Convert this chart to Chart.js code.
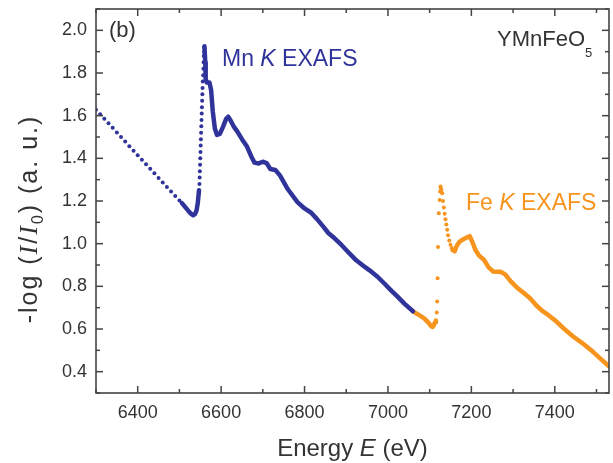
<!DOCTYPE html>
<html>
<head>
<meta charset="utf-8">
<script src="https://cdn.jsdelivr.net/npm/chart.js@4.4.0/dist/chart.umd.min.js"></script>
<style>
  html, body { margin: 0; padding: 0; background: #fff; }
  #wrap { width: 613px; height: 463px; }
</style>
</head>
<body>
<div id="wrap"><canvas id="exafs" width="613" height="463"></canvas></div>
<script>
// Axis ticks
const xTicks = [6400, 6600, 6800, 7000, 7200, 7400];
const xMinorTicks = [6300, 6500, 6700, 6900, 7100, 7300, 7500];
const yTicks = [0.4, 0.6, 0.8, 1.0, 1.2, 1.4, 1.6, 1.8, 2.0];
const yMinorTicks = [0.3, 0.5, 0.7, 0.9, 1.1, 1.3, 1.5, 1.7, 1.9, 2.1];

// Mn K edge: sparse pre-edge scan
const mnPreE = [6300, 6310, 6320, 6330, 6340, 6350, 6360, 6370, 6380, 6390, 6400,
  6410, 6420, 6430, 6440, 6450, 6460, 6470, 6480, 6490, 6500];
const mnPreAbs = [1.628, 1.607, 1.585, 1.564, 1.543, 1.521, 1.500, 1.479, 1.457, 1.436, 1.415,
  1.393, 1.372, 1.351, 1.330, 1.308, 1.287, 1.266, 1.244, 1.223, 1.202];

// Mn pre-edge dip (dense)
const mnDipE = [6506, 6512, 6518, 6524, 6529, 6533, 6537, 6541, 6544, 6547];
const mnDipAbs = [1.190, 1.176, 1.162, 1.148, 1.138, 1.133, 1.138, 1.155, 1.190, 1.250];

// Mn edge jump (sparse)
const mnEdgeE = [6548, 6548.5, 6549, 6549.5, 6550, 6550.5, 6551, 6551.5, 6552, 6552.5, 6553,
  6553.5, 6554, 6554.5, 6555, 6555.5, 6556, 6557, 6557.5, 6558, 6558.5, 6559, 6559.5];
const mnEdgeAbs = [1.28, 1.31, 1.34, 1.37, 1.40, 1.43, 1.46, 1.49, 1.52, 1.55, 1.58,
  1.61, 1.64, 1.67, 1.70, 1.73, 1.76, 1.79, 1.82, 1.85, 1.88, 1.90, 1.92];

// Mn EXAFS region (dense)
const mnPostE = [6560, 6562, 6563, 6566, 6572, 6576, 6580, 6585, 6590, 6597, 6605, 6612, 6617,
  6622, 6630, 6639, 6650, 6662, 6672, 6680, 6690, 6700, 6709, 6718, 6730, 6741, 6760, 6783,
  6800, 6816, 6830, 6845, 6857, 6872, 6888, 6905, 6924, 6940, 6956, 6975, 6992, 7008, 7023,
  7040, 7060];
const mnPostAbs = [1.925, 1.85, 1.77, 1.755, 1.755, 1.72, 1.62, 1.54, 1.51, 1.515, 1.55, 1.585, 1.595,
  1.58, 1.55, 1.525, 1.49, 1.455, 1.41, 1.38, 1.376, 1.384, 1.378, 1.35, 1.345, 1.32, 1.255, 1.195,
  1.165, 1.145, 1.115, 1.08, 1.05, 1.025, 0.995, 0.96, 0.922, 0.898, 0.875, 0.845, 0.812, 0.78, 0.752,
  0.718, 0.683];

// Fe pre-edge dip (dense)
const feDipE = [7060, 7075, 7087, 7097, 7104, 7107, 7110, 7113, 7115];
const feDipAbs = [0.683, 0.665, 0.650, 0.630, 0.612, 0.610, 0.618, 0.632, 0.640];

// Fe edge jump (sparse)
const feEdgeE = [7117, 7118, 7119, 7120, 7122, 7124, 7125, 7126, 7127, 7128, 7130, 7132, 7134,
  7136, 7138, 7140, 7142, 7144, 7147, 7150, 7153];
const feEdgeAbs = [0.677, 0.729, 0.838, 0.984, 1.142, 1.205, 1.244, 1.268, 1.26, 1.25, 1.236, 1.20, 1.17,
  1.14, 1.115, 1.09, 1.065, 1.04, 1.015, 0.995, 0.98];

// Fe EXAFS region (dense)
const fePostE = [7155, 7160, 7165, 7172, 7180, 7190, 7196, 7202, 7210, 7218, 7230, 7241, 7252,
  7261, 7270, 7281, 7295, 7309, 7325, 7340, 7356, 7370, 7385, 7404, 7420, 7444, 7465, 7491,
  7510, 7530];
const fePostAbs = [0.970, 0.965, 0.990, 1.010, 1.020, 1.030, 1.035, 1.010, 0.970, 0.945, 0.925, 0.890, 0.870,
  0.868, 0.868, 0.856, 0.822, 0.795, 0.770, 0.745, 0.710, 0.685, 0.665, 0.635, 0.605, 0.565, 0.535, 0.494,
  0.460, 0.425];

const MN_COLOR = '#30349a';
const FE_COLOR = '#f7941d';
const TEXT_COLOR = '#333333';
const FONT = "'Liberation Sans', Arial, sans-serif";

const pts = (xs, ys) => xs.map((x, i) => ({ x: x, y: ys[i] }));

function dots(xs, ys, color) {
  return { data: pts(xs, ys), showLine: false, pointRadius: 2, pointBorderWidth: 0,
    pointBackgroundColor: color, backgroundColor: color, borderColor: color };
}
function trace(xs, ys, color) {
  return { data: pts(xs, ys), showLine: true, pointRadius: 0, borderWidth: 4.5,
    borderColor: color, borderJoinStyle: 'round', borderCapStyle: 'round', tension: 0 };
}

// draw a run of text pieces with different fonts on one baseline
function richText(ctx, pieces, x, y, align) {
  let total = 0;
  pieces.forEach(p => { ctx.font = p.font; p.w = ctx.measureText(p.text).width; total += p.w; });
  let cx = align === 'center' ? x - total / 2 : x;
  pieces.forEach(p => {
    ctx.font = p.font;
    ctx.fillText(p.text, cx, y + (p.dy || 0));
    cx += p.w;
  });
}

const framePlugin = {
  id: 'frame',
  afterDraw(chart) {
    const { ctx, chartArea: a, scales: { x, y } } = chart;
    ctx.save();
    ctx.strokeStyle = '#444';
    ctx.lineWidth = 1.6;
    ctx.strokeRect(a.left, a.top, a.right - a.left, a.bottom - a.top);

    // inward ticks on all four sides
    const tick = (x1, y1, x2, y2) => { ctx.beginPath(); ctx.moveTo(x1, y1); ctx.lineTo(x2, y2); ctx.stroke(); };
    ctx.lineWidth = 1.5;
    xTicks.forEach(v => { const px = x.getPixelForValue(v); tick(px, a.bottom, px, a.bottom - 7); tick(px, a.top, px, a.top + 7); });
    xMinorTicks.forEach(v => { const px = x.getPixelForValue(v); tick(px, a.bottom, px, a.bottom - 4); tick(px, a.top, px, a.top + 4); });
    yTicks.forEach(v => { const py = y.getPixelForValue(v); tick(a.left, py, a.left + 7, py); tick(a.right, py, a.right - 7, py); });
    yMinorTicks.forEach(v => { const py = y.getPixelForValue(v); tick(a.left, py, a.left + 4, py); tick(a.right, py, a.right - 4, py); });

    ctx.textBaseline = 'alphabetic';
    ctx.textAlign = 'left';

    // axis titles
    ctx.fillStyle = TEXT_COLOR;
    richText(ctx, [
      { text: 'Energy ', font: `24px ${FONT}` },
      { text: 'E', font: `italic 24px ${FONT}` },
      { text: ' (eV)', font: `24px ${FONT}` }
    ], (a.left + a.right) / 2, 456, 'center');

    ctx.save();
    ctx.translate(37, 219);
    ctx.rotate(-Math.PI / 2);
    ctx.letterSpacing = '2px';
    richText(ctx, [
      { text: '-log (', font: `25px ${FONT}` },
      { text: 'I', font: `italic 26px 'Liberation Serif', serif` },
      { text: '/', font: `25px ${FONT}` },
      { text: 'I', font: `italic 26px 'Liberation Serif', serif` },
      { text: '0', font: `16px ${FONT}`, dy: 6 },
      { text: ') (a. u.)', font: `25px ${FONT}` }
    ], 0, 0, 'center');
    ctx.restore();

    // panel labels
    richText(ctx, [{ text: '(b)', font: `22px ${FONT}` }], 109, 37, 'left');
    richText(ctx, [
      { text: 'YMnFeO', font: `22px ${FONT}` },
      { text: '5', font: `13px ${FONT}`, dy: 11 }
    ], 497, 46, 'left');

    ctx.fillStyle = MN_COLOR;
    richText(ctx, [
      { text: 'Mn ', font: `23px ${FONT}` },
      { text: 'K', font: `italic 23px ${FONT}` },
      { text: ' EXAFS', font: `23px ${FONT}` }
    ], 222, 66, 'left');

    ctx.fillStyle = FE_COLOR;
    richText(ctx, [
      { text: 'Fe ', font: `23px ${FONT}` },
      { text: 'K', font: `italic 23px ${FONT}` },
      { text: ' EXAFS', font: `23px ${FONT}` }
    ], 466, 210, 'left');
    ctx.restore();
  }
};

new Chart(document.getElementById('exafs'), {
  type: 'scatter',
  data: {
    datasets: [
      dots(mnPreE, mnPreAbs, MN_COLOR),
      trace(mnDipE, mnDipAbs, MN_COLOR),
      dots(mnEdgeE, mnEdgeAbs, MN_COLOR),
      trace(mnPostE, mnPostAbs, MN_COLOR),
      trace(feDipE, feDipAbs, FE_COLOR),
      dots(feEdgeE, feEdgeAbs, FE_COLOR),
      trace(fePostE, fePostAbs, FE_COLOR)
    ]
  },
  options: {
    responsive: false,
    animation: false,
    devicePixelRatio: 1,
    layout: { padding: { left: 0, top: 9, right: 0, bottom: 0 } },
    plugins: { legend: { display: false }, tooltip: { enabled: false } },
    scales: {
      x: {
        type: 'linear', min: 6300, max: 7530,
        afterBuildTicks: s => { s.ticks = xTicks.map(v => ({ value: v })); },
        afterFit: s => { s.height = 70; s.paddingLeft = 0; s.paddingRight = 0; },
        grid: { display: false, drawTicks: false },
        border: { display: false },
        ticks: { color: TEXT_COLOR, font: { family: FONT, size: 18 }, padding: 9, maxRotation: 0, autoSkip: false,
          callback: v => String(v) }
      },
      y: {
        type: 'linear', min: 0.3, max: 2.1,
        afterBuildTicks: s => { s.ticks = yTicks.map(v => ({ value: v })); },
        afterFit: s => { s.width = 96; s.paddingTop = 0; s.paddingBottom = 0; },
        grid: { display: false, drawTicks: false },
        border: { display: false },
        ticks: { color: TEXT_COLOR, font: { family: FONT, size: 18 }, padding: 9,
          callback: v => v.toFixed(1) }
      }
    }
  },
  plugins: [framePlugin]
});
</script>
</body>
</html>
